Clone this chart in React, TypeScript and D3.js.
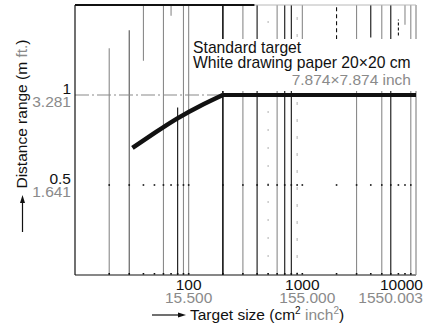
import React from 'react';
import * as d3 from 'd3';

// curve: target size (cm²) -> distance range (m)
const sizes = [32, 51, 79, 126, 200, 10000];
const ranges = [0.706, 0.792, 0.869, 0.939, 1.0, 1.0];

const xTicks = [100, 1000, 10000];
const xTickInch = ['15.500', '155.000', '1550.003'];
const yTicks = [1, 0.5];
const yTickFt = ['3.281', '1.641'];

const noteLines = ['Standard target', 'White drawing paper 20×20 cm'];
const noteInch = '7.874×7.874 inch';

// how each log grid line shows up in the scan (y extents in metres)
const GRAY = '#8a8a8a';
const LIGHT = '#b8b8b8';
const BLACK = '#111';
const gridLook: Record<number, { c: string; y0?: number; y1?: number; dash?: string; w?: number }> = {
  20: { c: GRAY, y1: 1.26 },
  30: { c: '#555', y1: 1.36 },
  40: { c: GRAY, y0: 1.19 },
  60: { c: GRAY },
  70: { c: GRAY, y0: 1.44 },
  80: { c: BLACK, y1: 0.93 },
  90: { c: GRAY },
  100: { c: GRAY },
  200: { c: BLACK, w: 1.6 },
  300: { c: GRAY },
  400: { c: BLACK },
  500: { c: LIGHT, dash: '2 16' },
  600: { c: GRAY },
  700: { c: BLACK },
  800: { c: BLACK },
  900: { c: LIGHT, dash: '3 14' },
  1000: { c: GRAY, y0: 1.31 },
  2000: { c: BLACK, y0: 1.31, dash: '4 3' },
  3000: { c: GRAY },
  4000: { c: BLACK, y0: 1.32 },
  5000: { c: GRAY },
  6000: { c: BLACK },
  7000: { c: BLACK, y0: 1.33, y1: 1.42, dash: '3 2' },
  8000: { c: GRAY, y0: 1.39 },
  9000: { c: GRAY },
};

const W = 435;
const H = 328;
const margin = { top: 5, right: 19, bottom: 53, left: 75 };
const FONT = '"Liberation Sans", Arial, Helvetica, sans-serif';

export default function App() {
  const x = d3
    .scaleLog()
    .domain([10, 10000])
    .range([margin.left, W - margin.right]);
  const y = d3
    .scaleLinear()
    .domain([0, 1.5])
    .range([H - margin.bottom, margin.top]);

  const [x0, x1] = x.range();
  const [yb, yt] = y.range();

  const minor = x.ticks().filter((t) => t > 10 && t < 10000);

  // rising part is smooth, then it levels off with a sharp knee
  const knee = sizes.indexOf(200);
  const rise = d3
    .line<number>()
    .x((i) => x(sizes[i]))
    .y((i) => y(ranges[i]))
    .curve(d3.curveNatural);
  const flat = d3
    .line<number>()
    .x((i) => x(sizes[i]))
    .y((i) => y(ranges[i]));
  const idx = d3.range(sizes.length);

  return (
    <svg
      width={W}
      height={H}
      style={{ position: 'absolute', left: 0, top: 0, background: '#fff' }}
      fontFamily={FONT}
    >
      {/* grid */}
      {minor.map((t) => {
        const g = gridLook[t];
        if (!g) return null;
        return (
          <line
            key={'g' + t}
            x1={x(t)}
            x2={x(t)}
            y1={y(g.y0 ?? 0)}
            y2={y(g.y1 ?? 1.5)}
            stroke={g.c}
            strokeWidth={g.w ?? 1.1}
            strokeDasharray={g.dash}
          />
        );
      })}
      <line x1={x0} x2={x(200)} y1={y(1)} y2={y(1)} stroke={GRAY} strokeWidth={1.2} strokeDasharray="14 3 2 3" />
      {minor.map((t) => (
        <g key={'d' + t}>
          <rect x={x(t) - 0.8} y={y(0.5) - 0.8} width={1.6} height={1.6} fill={BLACK} />
          <rect x={x(t) - 0.8} y={yb - 2} width={1.6} height={1.6} fill={BLACK} />
        </g>
      ))}

      {/* frame */}
      <line x1={x0} x2={x0} y1={yt} y2={yb} stroke={BLACK} strokeWidth={1.2} />
      <line x1={x0} x2={x1} y1={yb} y2={yb} stroke={BLACK} strokeWidth={1.2} />
      <line x1={x1} x2={x1} y1={yt} y2={yb} stroke={GRAY} strokeWidth={1.2} />
      <line x1={x0} x2={x(380)} y1={yt} y2={yt} stroke={BLACK} strokeWidth={2} />
      <line x1={x(380)} x2={x1} y1={yt} y2={yt} stroke={LIGHT} strokeWidth={1} />

      {/* note box */}
      <rect x={x(105)} y={39} width={W - 18 - x(105)} height={52} fill="#fff" />
      {noteLines.map((s, i) => (
        <text key={s} x={x(105) + 2} y={53 + i * 15} fontSize={15.7} fill={BLACK}>
          {s}
        </text>
      ))}
      <text x={x1 - 5} y={85} fontSize={15.5} fill={GRAY} textAnchor="end">
        {noteInch}
      </text>

      {/* data */}
      <path d={rise(idx.slice(0, knee + 1)) ?? ''} fill="none" stroke={BLACK} strokeWidth={4.5} />
      <path d={flat(idx.slice(knee)) ?? ''} fill="none" stroke={BLACK} strokeWidth={4} />

      {/* y ticks */}
      {yTicks.map((t, i) => (
        <g key={'y' + t} fontSize={15.5} textAnchor="end">
          <text x={x0 - 4} y={y(t) - 1.5} fill={BLACK}>
            {t}
          </text>
          <text x={x0 - 4} y={y(t) + 11.5} fill={GRAY}>
            {yTickFt[i]}
          </text>
        </g>
      ))}

      {/* x ticks */}
      {xTicks.map((t, i) => {
        const last = i === xTicks.length - 1;
        const tx = last ? x(t) + 7 : x(t);
        const anchor = last ? 'end' : 'middle';
        return (
          <g key={'x' + t} fontSize={15.5} textAnchor={anchor}>
            <text x={tx} y={yb + 15} fill={BLACK}>
              {t}
            </text>
            <text x={tx + (i === 1 ? 5 : 0)} y={yb + 28} fill={GRAY}>
              {xTickInch[i]}
            </text>
          </g>
        );
      })}

      {/* axis titles */}
      <line x1={152} x2={180} y1={315} y2={315} stroke={BLACK} strokeWidth={1.2} />
      <path d="M178,312.5 L186,315 L178,317.5 Z" fill={BLACK} />
      <text x={190} y={320} fontSize={15.5} fill={BLACK}>
        Target size (cm
        <tspan fontSize={10} dy={-6}>2</tspan>
        <tspan dy={6} fill={GRAY}> inch</tspan>
        <tspan fontSize={10} dy={-6} fill={GRAY}>2</tspan>
        <tspan dy={6}>)</tspan>
      </text>

      <line x1={22.5} x2={22.5} y1={232} y2={202} stroke={BLACK} strokeWidth={1.2} />
      <path d="M20,203 L22.5,195 L25,203 Z" fill={BLACK} />
      <text transform="translate(27,114) rotate(-90)" fontSize={15.5} textAnchor="middle" fill={BLACK}>
        Distance range (m <tspan fill={GRAY}>ft.</tspan>)
      </text>
    </svg>
  );
}
